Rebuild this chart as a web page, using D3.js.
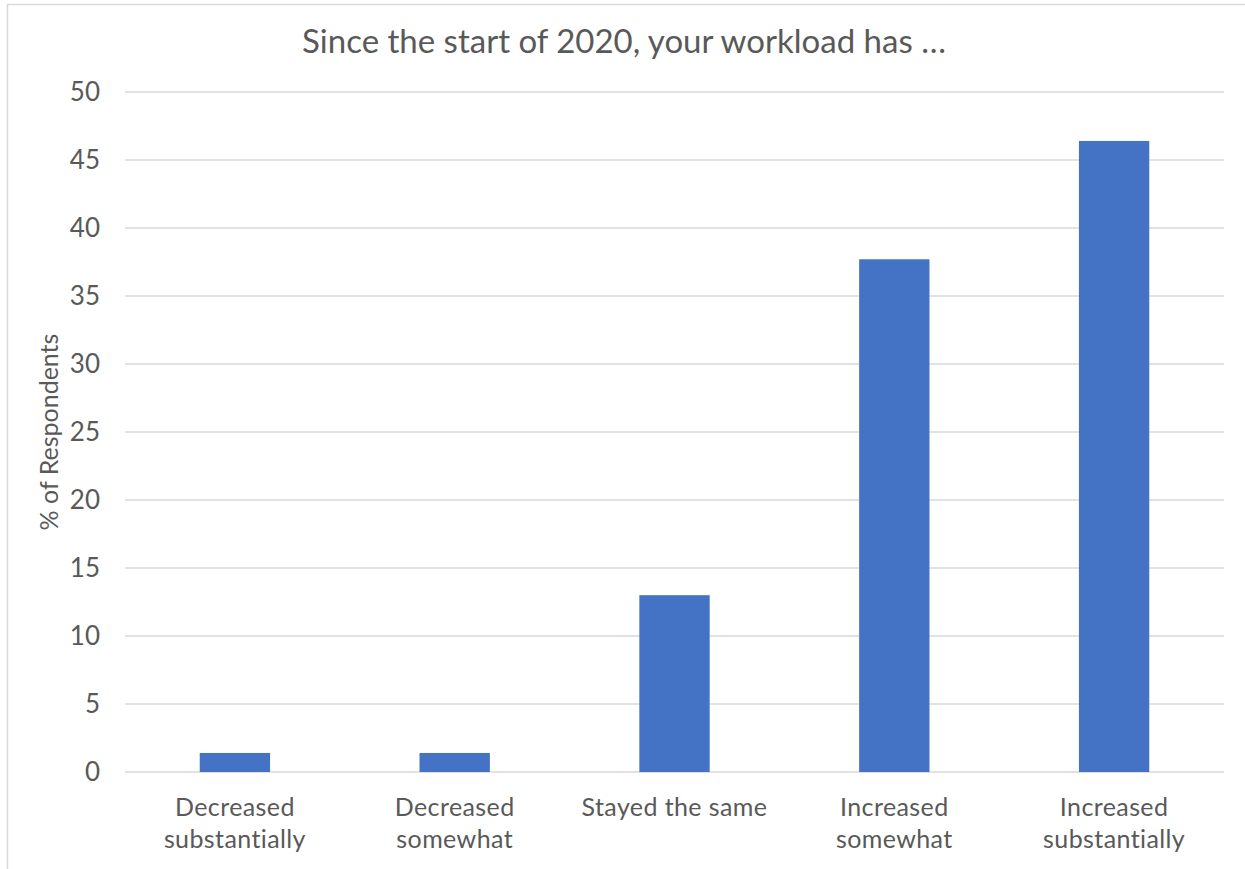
<!DOCTYPE html>
<html><head><meta charset="utf-8">
<script src="https://cdn.jsdelivr.net/npm/d3@7"></script>
<style>body{margin:0;background:#fff}svg{display:block}</style>
</head><body>
<script>
const categories = [["Decreased","substantially"],["Decreased","somewhat"],["Stayed the same"],["Increased","somewhat"],["Increased","substantially"]];
const values = [1.4, 1.4, 13.0, 37.7, 46.4];
const yTicks = [0,5,10,15,20,25,30,35,40,45,50];
const title = "Since the start of 2020, your workload has …";
const yTitle = "% of Respondents";

const W = 1245, H = 869;
const m = {left:125, right:21, top:92, bottom:97};
const svg = d3.select("body").append("svg").attr("width",W).attr("height",H);
const font = "Lato, 'Open Sans', sans-serif";
svg.append("rect").attr("x",7.5).attr("y",4.5).attr("width",W+10).attr("height",H+10)
  .attr("fill","none").attr("stroke","#d9d9d9").attr("stroke-width",1.5);

const x = d3.scaleBand().domain(categories.map((d,i)=>i)).range([m.left, W-m.right]).paddingInner(0.68).paddingOuter(0.34);
const y = d3.scaleLinear().domain([0,50]).range([H-m.bottom, m.top]);

const g = svg.append("g");
g.selectAll("line.grid").data(yTicks).join("line")
  .attr("x1",m.left).attr("x2",W-m.right).attr("y1",d=>y(d)).attr("y2",d=>y(d))
  .attr("stroke","#d9d9d9").attr("stroke-width",1.5);

const yAxis = d3.axisLeft(y).tickValues(yTicks).tickSize(0).tickPadding(25);
const ya = svg.append("g").attr("transform",`translate(${m.left},0)`).call(yAxis);
ya.select(".domain").remove();
ya.selectAll("text").attr("font-family",font).attr("font-size",26).attr("fill","#595959");

svg.append("g").selectAll("rect").data(values).join("rect")
  .attr("x",(d,i)=>x(i)).attr("width",x.bandwidth())
  .attr("y",d=>y(d)).attr("height",d=>y(0)-y(d)).attr("fill","#4472c4");

const xl = svg.append("g").selectAll("text").data(categories).join("text")
  .attr("text-anchor","middle").attr("font-family",font).attr("font-size",25)
  .attr("letter-spacing",0.4).attr("fill","#595959");
xl.each(function(d,i){
  const t = d3.select(this);
  d.forEach((s,j)=>t.append("tspan").attr("x",x(i)+x.bandwidth()/2).attr("y",816+j*31.5).text(s));
});

svg.append("text").attr("x",624).attr("y",53).attr("text-anchor","middle")
  .attr("font-family",font).attr("font-size",33).attr("fill","#595959").text(title);
svg.append("text").attr("transform",`translate(58,${y(25)}) rotate(-90)`).attr("text-anchor","middle")
  .attr("font-family",font).attr("font-size",25).attr("fill","#595959").text(yTitle);
</script>
</body></html>
